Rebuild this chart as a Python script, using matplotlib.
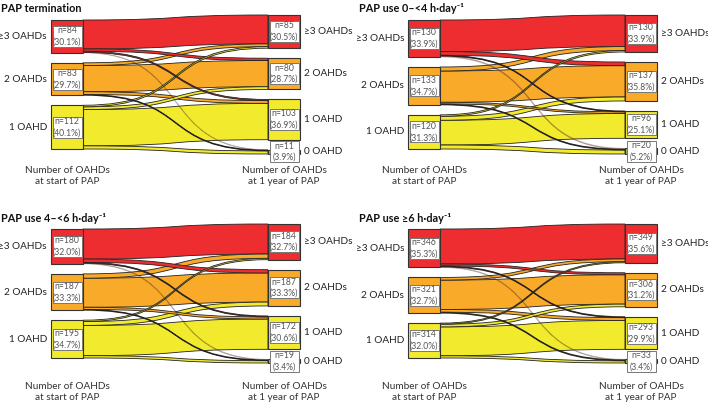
import numpy as np
import matplotlib.pyplot as plt
from matplotlib.path import Path
from matplotlib.patches import PathPatch, Rectangle

plt.rcParams['font.family'] = ['Lato', 'DejaVu Sans']

titles = ["PAP termination", "PAP use 0\u2013<4 h\u00b7day\u207b\u00b9",
          "PAP use 4\u2013<6 h\u00b7day\u207b\u00b9", "PAP use \u22656 h\u00b7day\u207b\u00b9"]
start_labels = ["\u22653 OAHDs", "2 OAHDs", "1 OAHD"]
end_labels = ["\u22653 OAHDs", "2 OAHDs", "1 OAHD", "0 OAHD"]

# rows: OAHDs at start of PAP, columns: OAHDs at 1 year
flows_termination = [[74, 6, 3, 1], [7, 67, 7, 2], [4, 7, 93, 8]]
flows_use_0_4 = [[111, 13, 3, 3], [14, 110, 6, 3], [5, 14, 87, 14]]
flows_use_4_6 = [[155, 17, 5, 3], [22, 150, 11, 4], [7, 20, 156, 12]]
flows_use_6 = [[315, 18, 8, 5], [24, 264, 25, 8], [10, 24, 260, 20]]
all_flows = [flows_termination, flows_use_0_4, flows_use_4_6, flows_use_6]

colors = ["#EE2D30", "#F9AA28", "#F2EA2C", "#8CC43F"]

# panel layout in pixels
offsets = [(0, 0), (357, 0), (0, 209), (357, 209)]
title_pos = [(1, 8), (359, 8), (1, 219), (359, 219)]
axis_label_y = [176, 392]
node_w = 32
left_x = 51
right_x = 268
flow_h = 109.0
gap = 10.0
top = 15.0
k = 0.6


def column_positions(counts, scale, center):
    heights = [c * scale for c in counts]
    total = sum(heights) + gap * (len(counts) - 1)
    y = center - total / 2
    pos = []
    for h in heights:
        pos.append((y, y + h))
        y += h + gap
    return pos


def band(x0, x1, s0, s1, t0, t1):
    dx = x1 - x0
    verts = [(x0, s0), (x0 + k * dx, s0), (x1 - k * dx, t0), (x1, t0),
             (x1, t1), (x1 - k * dx, t1), (x0 + k * dx, s1), (x0, s1), (x0, s0)]
    codes = [Path.MOVETO, Path.CURVE4, Path.CURVE4, Path.CURVE4,
             Path.LINETO, Path.CURVE4, Path.CURVE4, Path.CURVE4, Path.CLOSEPOLY]
    return Path(verts, codes)


fig = plt.figure(figsize=(7.08, 4.07), dpi=100)
ax = fig.add_axes([0, 0, 1, 1])
ax.set_xlim(0, 708)
ax.set_ylim(407, 0)
ax.axis('off')

for p, flows in enumerate(all_flows):
    ox, oy = offsets[p]
    f = np.array(flows)
    left_n = f.sum(axis=1)
    right_n = f.sum(axis=0)
    total = f.sum()
    scale = flow_h / total
    center = oy + top + (flow_h + gap * 3) / 2
    lpos = column_positions(left_n, scale, center)
    rpos = column_positions(right_n, scale, center)

    # flow slots
    lcur = [a for a, b in lpos]
    rcur = [a for a, b in rpos]
    bands = []
    for i in range(3):
        for j in range(4):
            h = f[i, j] * scale
            s0 = lcur[i]
            lcur[i] += h
            bands.append((f[i, j], i, j, s0, s0 + h))
    slots = {}
    for j in range(4):
        for i in range(3):
            h = f[i, j] * scale
            slots[(i, j)] = (rcur[j], rcur[j] + h)
            rcur[j] += h

    x0 = ox + left_x + node_w
    x1 = ox + right_x
    for val, i, j, s0, s1 in sorted(bands, key=lambda b: -b[0]):
        t0, t1 = slots[(i, j)]
        alpha = 0.3 if (i == 0 and j == 3) else 1.0
        ax.add_patch(PathPatch(band(x0, x1, s0, s1, t0, t1), facecolor=colors[i],
                               edgecolor='#222222', lw=0.6, alpha=alpha, zorder=2))

    # nodes
    for side, pos, counts, labels, nx in [(0, lpos, left_n, start_labels, ox + left_x),
                                          (1, rpos, right_n, end_labels, ox + right_x)]:
        for c, ((a, b), n, lab) in enumerate(zip(pos, counts, labels)):
            ax.add_patch(Rectangle((nx, a), node_w, b - a, facecolor=colors[c],
                                   edgecolor='#333333', lw=0.8, zorder=3))
            cy = (a + b) / 2
            ax.add_patch(Rectangle((nx + 1.5, cy - 10.5), node_w - 3, 21, facecolor='white',
                                   edgecolor='#777777', lw=0.7, zorder=4))
            ax.text(nx + node_w / 2, cy, f"n={n}\n({n / total * 100:.1f}%)", ha='center',
                    va='center', fontsize=6.2, color='#555555', linespacing=1.35, zorder=5)
            if side == 0:
                ax.text(nx - 4, cy, lab, ha='right', va='center', fontsize=7.2, color='#222222')
            else:
                ax.text(nx + node_w + 4, cy, lab, ha='left', va='center', fontsize=7.2,
                        color='#222222')

    ax.text(title_pos[p][0], title_pos[p][1], titles[p], ha='left', va='center',
            fontsize=7.8, fontweight='bold', color='#111111')
    ly = axis_label_y[p // 2]
    ax.text(ox + left_x + node_w / 2, ly, "Number of OAHDs\nat start of PAP", ha='center',
            va='center', fontsize=7.2, color='#333333', linespacing=1.35)
    ax.text(ox + right_x + node_w / 2, ly, "Number of OAHDs\nat 1 year of PAP", ha='center',
            va='center', fontsize=7.2, color='#333333', linespacing=1.35)

fig.savefig("out.png", dpi=100)
